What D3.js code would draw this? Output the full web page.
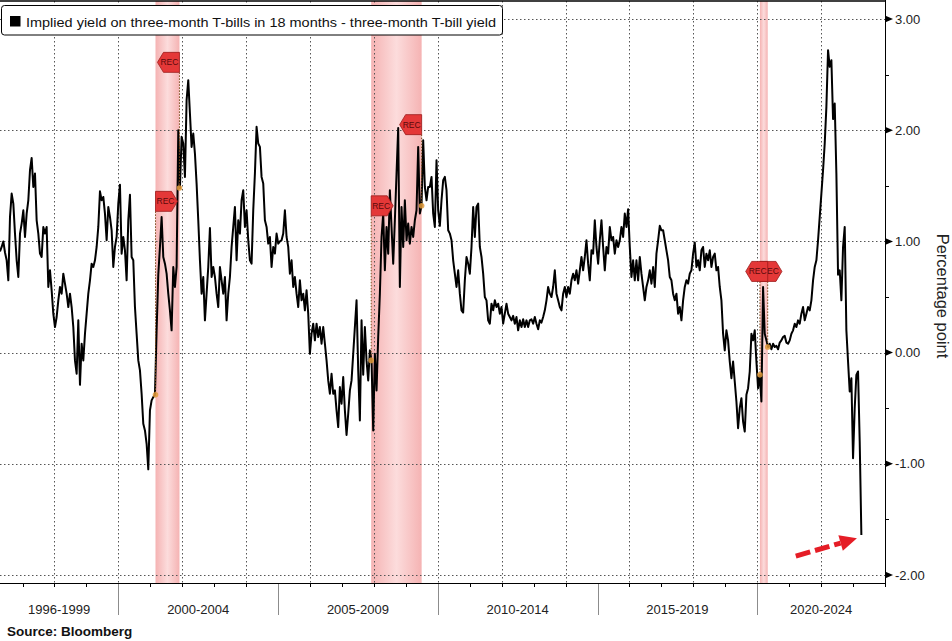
<!DOCTYPE html>
<html>
<head>
<meta charset="utf-8">
<script src="https://cdn.jsdelivr.net/npm/d3@7"></script>
<style>
  body { margin: 0; background: #fff; }
  svg { display: block; font-family: "Liberation Sans", Arial, sans-serif; }
</style>
</head>
<body>
<div id="chart"></div>
<script>
// ___________________________ data ___________________________
const seriesName = "Implied yield on three-month T-bills in 18 months - three-month T-bill yield";
const firstDate = new Date(1996, 3, 18);
const lastAxisDate = new Date(2024, 0, 1);
const stepDays = 19.05; // spacing of the sampled points

const spread = [
    0.91, 0.95, 1.00, 0.90, 0.83, 0.65, 1.22, 1.43, 1.34, 1.07, 0.83, 0.68, 1.07, 1.16, 1.28, 1.04, 1.25, 1.37, 1.64, 1.75,
    1.49, 1.61, 1.19, 1.07, 0.89, 0.86, 1.13, 1.07, 1.13, 0.59, 0.74, 0.56, 0.35, 0.23, 0.32, 0.47, 0.59, 0.53, 0.71, 0.62,
    0.53, 0.41, 0.53, 0.41, 0.23, -0.07, -0.19, 0.29, -0.29, 0.08, -0.07, 0.17, 0.35, 0.53, 0.65, 0.80, 0.77, 0.83, 0.95, 1.13,
    1.45, 1.37, 1.40, 1.25, 1.01, 1.31, 1.22, 1.10, 0.77, 0.95, 1.04, 1.34, 1.51, 0.89, 1.04, 0.92, 0.65, 1.19, 1.42, 0.86,
    0.83, 0.41, 0.17, -0.07, -0.16, -0.37, -0.64, -0.70, -0.82, -1.05, -0.52, -0.43, -0.40, -0.38, 0.20, 0.70, 0.95, 1.22, 0.86, 0.80,
    0.71, 0.53, 0.38, 0.20, 0.77, 0.59, 0.77, 2.00, 1.48, 1.94, 1.88, 1.58, 2.27, 2.45, 2.15, 1.85, 1.97, 1.79, 1.52, 1.19,
    0.83, 0.53, 0.68, 0.29, 0.53, 0.77, 1.12, 0.68, 0.77, 0.68, 0.53, 0.41, 0.77, 0.65, 0.53, 0.68, 0.29, 0.53, 0.68, 0.95,
    1.13, 1.31, 0.83, 1.19, 1.07, 1.37, 1.46, 1.13, 1.28, 1.01, 0.83, 0.80, 1.28, 1.61, 2.03, 1.88, 1.85, 1.58, 1.52, 1.19,
    1.13, 0.98, 1.04, 0.77, 0.95, 0.89, 1.07, 0.98, 1.00, 1.01, 1.07, 1.28, 1.04, 0.95, 0.71, 0.83, 0.59, 0.68, 0.53, 0.41,
    0.65, 0.47, 0.53, 0.38, 0.56, 0.35, -0.01, 0.17, 0.26, 0.11, 0.26, 0.14, 0.23, 0.08, 0.23, 0.08, -0.07, -0.25, -0.37, -0.19,
    -0.37, -0.34, -0.52, -0.67, -0.31, -0.46, -0.22, -0.52, -0.74, -0.55, -0.34, -0.25, -0.01, 0.23, 0.47, -0.16, -0.61, 0.29, -0.20, 0.23,
    -0.07, -0.25, 0.02, -0.07, -0.70, -0.01, -0.34, 0.14, 0.53, 1.04, 1.25, 0.74, 1.13, 0.89, 1.46, 1.13, 0.80, 1.19, 1.61, 2.02,
    0.59, 1.31, 0.95, 1.37, 1.01, 1.16, 0.98, 1.13, 1.04, 1.19, 1.28, 1.85, 1.25, 1.32, 1.91, 1.49, 1.37, 1.49, 1.49, 1.58,
    1.25, 1.13, 1.73, 1.28, 1.14,
    1.37, 1.55, 1.58, 1.46, 1.10, 1.07, 1.01, 0.83, 0.71, 0.59, 0.74, 0.53, 0.38, 0.36, 0.65, 0.86, 0.80, 0.71, 0.95, 1.31,
    1.04, 1.31, 1.34, 0.95, 0.86, 0.71, 0.50, 0.47, 0.29, 0.26, 0.44, 0.38, 0.47, 0.41, 0.44, 0.35, 0.41, 0.26, 0.35, 0.44,
    0.35, 0.32, 0.29, 0.33, 0.26, 0.32, 0.20, 0.29, 0.23, 0.30, 0.23, 0.29, 0.23, 0.29, 0.30, 0.26, 0.32, 0.26, 0.21, 0.29,
    0.27, 0.32, 0.38, 0.47, 0.59, 0.53, 0.50, 0.59, 0.74, 0.53, 0.47, 0.41, 0.38, 0.53, 0.59, 0.50, 0.59, 0.53, 0.65, 0.71,
    0.65, 0.74, 0.62, 0.74, 0.86, 0.74, 0.86, 1.01, 0.80, 0.65, 0.92, 0.89, 1.19, 0.95, 0.80, 1.01, 1.19, 0.95, 0.74, 0.95,
    0.89, 1.13, 1.01, 1.04, 0.89, 1.01, 0.95, 1.01, 1.13, 1.04, 1.25, 1.13, 1.29, 0.95, 0.68, 0.83, 0.65, 0.83, 0.65, 0.86,
    0.71, 0.59, 0.47, 0.59, 0.65, 0.74, 0.62, 0.77, 0.59, 0.89, 1.01, 1.14, 1.10, 1.10, 1.01, 0.92, 0.83, 0.68, 0.65, 0.53,
    0.47, 0.53, 0.35, 0.41, 0.29, 0.47, 0.59, 0.65, 0.62, 0.71, 0.74, 0.89, 0.99, 0.77, 0.83, 0.74, 0.92, 0.95, 0.77, 0.89,
    0.83, 0.92, 0.77, 0.86, 0.89, 0.74, 0.77, 0.59, 0.47, 0.17, 0.02, 0.20, 0.11, -0.08, -0.23, -0.08, -0.26, -0.44, -0.68, -0.50,
    -0.41, -0.62, -0.71, -0.38, -0.32, -0.17, 0.17, 0.11, 0.20, -0.08, -0.32, -0.20, -0.44, 0.59, 0.17, 0.11, 0.05, 0.08, 0.03, 0.08,
    0.05, 0.06, 0.03, 0.09, 0.11, 0.14, 0.15, 0.09, 0.08, 0.11, 0.17, 0.20, 0.26, 0.23, 0.29, 0.26, 0.35, 0.41, 0.29, 0.35,
    0.41, 0.38, 0.47, 0.65, 0.77, 0.83, 1.01, 1.22, 1.43, 1.64, 1.88, 2.21, 2.72, 2.57, 2.63, 2.10, 2.24, 1.61, 0.70, 0.74,
    0.47, 0.95, 1.13, 0.20, -0.08, -0.35, -0.23, -0.95, -0.50, -0.20, -0.17, -0.80, -1.64
];

const periodLabels = ["1996-1999", "2000-2004", "2005-2009", "2010-2014", "2015-2019", "2020-2024"];
const periodStarts = [1996, 2000, 2005, 2010, 2015, 2020];
const periodEnds = [2000, 2005, 2010, 2015, 2020, 2025];
const yTicks = [-2, -1, 0, 1, 2, 3];
const yMinorTicks = [-1.5, -0.5, 0.5, 1.5, 2.5];

const recStarts = ["2001-03-01", "2007-12-01", "2020-02-01"];
const recEnds = ["2001-11-30", "2009-06-30", "2020-04-30"];
const recStartFlag = [1.36, 1.32, 0.73];
const recEndFlag = [2.61, 2.05, 0.73];

const arrowDates = ["2021-03-17", "2023-02-14"];
const arrowValues = [-1.83, -1.67];

// ___________________________ chart ___________________________
const width = 952, height = 641;
const plot = { left: 0, right: 885, top: 1, bottom: 583 };
const parse = d3.timeParse("%Y-%m-%d");

const data = spread.map(function (v, i) {
    return { date: new Date(firstDate.getTime() + i * stepDays * 864e5), value: v };
});

const x = d3.scaleTime().domain([firstDate, lastAxisDate]).range([plot.left, plot.right]);
const y = d3.scaleLinear().domain([-2, 3]).range([575, 19]);

const svg = d3.select("#chart").append("svg")
    .attr("width", width)
    .attr("height", height);

svg.append("rect").attr("width", width).attr("height", height).attr("fill", "#fff");

const defs = svg.append("defs");
const grad = defs.append("linearGradient")
    .attr("id", "recGrad").attr("x1", 0).attr("x2", 1).attr("y1", 0).attr("y2", 0);
grad.append("stop").attr("offset", "0%").attr("stop-color", "#f5b3b3");
grad.append("stop").attr("offset", "50%").attr("stop-color", "#fcdcdc");
grad.append("stop").attr("offset", "100%").attr("stop-color", "#f5b3b3");

const recessions = recStarts.map(function (s, i) {
    return { start: parse(s), end: parse(recEnds[i]), startFlag: recStartFlag[i], endFlag: recEndFlag[i] };
});

// recession bands
svg.selectAll(".band")
    .data(recessions)
    .enter()
    .append("rect")
    .attr("class", "band")
    .attr("x", d => x(d.start))
    .attr("width", d => x(d.end) - x(d.start))
    .attr("y", plot.top)
    .attr("height", plot.bottom - plot.top)
    .attr("fill", "url(#recGrad)");

// dotted grid
svg.selectAll(".hgrid")
    .data(yTicks)
    .enter()
    .append("line")
    .attr("class", "hgrid")
    .attr("x1", plot.left)
    .attr("x2", plot.right)
    .attr("y1", d => Math.round(y(d)) + 0.5)
    .attr("y2", d => Math.round(y(d)) + 0.5)
    .attr("stroke", "#555")
    .attr("stroke-dasharray", "1.5,2.5");

const gridYears = d3.timeYear.every(2).range(new Date(1998, 0, 1), new Date(2023, 0, 1));
svg.selectAll(".vgrid")
    .data(gridYears)
    .enter()
    .append("line")
    .attr("class", "vgrid")
    .attr("x1", d => Math.round(x(d)) + 0.5)
    .attr("x2", d => Math.round(x(d)) + 0.5)
    .attr("y1", plot.top)
    .attr("y2", plot.bottom)
    .attr("stroke", "#555")
    .attr("stroke-dasharray", "1.5,2.5");

// the series
const line = d3.line()
    .x(d => x(d.date))
    .y(d => y(d.value));

svg.append("path")
    .datum(data)
    .attr("fill", "none")
    .attr("stroke", "#000")
    .attr("stroke-width", 2)
    .attr("stroke-linejoin", "round")
    .attr("d", line);

// points on the line at recession start / end
const nearest = d3.bisector(d => d.date).center;
const marks = [];
recessions.forEach(function (r) {
    marks.push({ date: r.start, flag: r.startFlag, side: "start", value: data[nearest(data, r.start)].value });
    marks.push({ date: r.end, flag: r.endFlag, side: "end", value: data[nearest(data, r.end)].value });
});

svg.selectAll(".leader")
    .data(marks)
    .enter()
    .append("line")
    .attr("class", "leader")
    .attr("x1", d => x(d.date))
    .attr("x2", d => x(d.date))
    .attr("y1", d => y(d.flag) + (y(d.value) > y(d.flag) ? 10 : -10))
    .attr("y2", d => y(d.value))
    .attr("stroke", "#7a4a1a")
    .attr("stroke-width", 1)
    .attr("stroke-dasharray", "1.5,1.5");

svg.selectAll(".recdot")
    .data(marks)
    .enter()
    .append("circle")
    .attr("class", "recdot")
    .attr("cx", d => x(d.date))
    .attr("cy", d => y(d.value))
    .attr("r", 2.8)
    .attr("fill", "#e09a3a")
    .attr("opacity", 0.85);

// REC flags: start flags point right, end flags point left (end flags on top)
function flagPath(d) {
    const px = x(d.date), py = y(d.flag), s = d.side === "start" ? 1 : -1;
    return "M" + px + "," + (py - 10) +
        "L" + (px + s * 16) + "," + (py - 10) +
        "L" + (px + s * 22) + "," + py +
        "L" + (px + s * 16) + "," + (py + 10) +
        "L" + px + "," + (py + 10) + "Z";
}
const flagOrder = marks.filter(d => d.side === "start").concat(marks.filter(d => d.side === "end"));
const flags = svg.selectAll(".flag")
    .data(flagOrder)
    .enter()
    .append("g")
    .attr("class", "flag");
flags.append("path")
    .attr("d", flagPath)
    .attr("fill", "#e43838")
    .attr("stroke", "#9a1a1a")
    .attr("stroke-width", 0.8);
flags.append("text")
    .attr("x", d => x(d.date) + (d.side === "start" ? 10 : -10))
    .attr("y", d => y(d.flag) + 3)
    .attr("text-anchor", "middle")
    .style("font-size", "8.5px")
    .style("fill", "#5a0a0a")
    .text("REC");

// red dashed arrow
const a0 = [x(parse(arrowDates[0])), y(arrowValues[0])];
const a1 = [x(parse(arrowDates[1])), y(arrowValues[1])];
const ang = Math.atan2(a1[1] - a0[1], a1[0] - a0[0]);
const headLen = 17, headHalf = 8;
const base = [a1[0] - headLen * Math.cos(ang), a1[1] - headLen * Math.sin(ang)];
svg.append("line")
    .attr("x1", a0[0]).attr("y1", a0[1])
    .attr("x2", base[0]).attr("y2", base[1])
    .attr("stroke", "#e51d26")
    .attr("stroke-width", 5)
    .attr("stroke-dasharray", "15,5");
svg.append("path")
    .attr("d", "M" + a1[0] + "," + a1[1] +
        "L" + (base[0] + headHalf * Math.sin(ang)) + "," + (base[1] - headHalf * Math.cos(ang)) +
        "L" + (base[0] - headHalf * Math.sin(ang)) + "," + (base[1] + headHalf * Math.cos(ang)) + "Z")
    .attr("fill", "#e51d26");

// frame
svg.append("line")
    .attr("x1", plot.left).attr("x2", plot.right)
    .attr("y1", plot.top).attr("y2", plot.top)
    .attr("stroke", "#000").attr("stroke-width", 1.5);

// right axis
const yAxis = svg.append("g").attr("class", "y-axis");
yAxis.append("line")
    .attr("x1", plot.right + 0.5).attr("x2", plot.right + 0.5)
    .attr("y1", 0).attr("y2", plot.bottom + 4)
    .attr("stroke", "#000");
yAxis.selectAll(".tri")
    .data(yTicks)
    .enter()
    .append("path")
    .attr("class", "tri")
    .attr("d", d => "M" + plot.right + "," + (y(d) - 3.5) + "L" + (plot.right + 8) + "," + y(d) + "L" + plot.right + "," + (y(d) + 3.5) + "Z")
    .attr("fill", "#000");
yAxis.selectAll(".minor")
    .data(yMinorTicks)
    .enter()
    .append("line")
    .attr("class", "minor")
    .attr("x1", plot.right).attr("x2", plot.right + 4)
    .attr("y1", d => Math.round(y(d)) + 0.5)
    .attr("y2", d => Math.round(y(d)) + 0.5)
    .attr("stroke", "#000");
const fmt = d3.format(".2f");
yAxis.selectAll(".ylab")
    .data(yTicks)
    .enter()
    .append("text")
    .attr("class", "ylab")
    .attr("x", plot.right + 10)
    .attr("y", d => y(d))
    .attr("dy", "0.36em")
    .style("font-size", "13px")
    .style("fill", "#222")
    .text(d => fmt(d).replace("\u2212", "-"));

svg.append("text")
    .attr("transform", "translate(937,296) rotate(90)")
    .attr("text-anchor", "middle")
    .style("font-size", "16.5px")
    .style("fill", "#222")
    .text("Percentage point");

// bottom axis
const xAxis = svg.append("g").attr("class", "x-axis");
xAxis.append("line")
    .attr("x1", plot.left).attr("x2", plot.right + 1)
    .attr("y1", plot.bottom + 0.5).attr("y2", plot.bottom + 0.5)
    .attr("stroke", "#000");
xAxis.selectAll(".ytick")
    .data(d3.timeYear.range(new Date(1997, 0, 1), new Date(2024, 0, 2)))
    .enter()
    .append("line")
    .attr("class", "ytick")
    .attr("x1", d => Math.round(x(d)) + 0.5)
    .attr("x2", d => Math.round(x(d)) + 0.5)
    .attr("y1", plot.bottom)
    .attr("y2", plot.bottom + 4)
    .attr("stroke", "#000");
xAxis.selectAll(".sep")
    .data(periodStarts.slice(1))
    .enter()
    .append("line")
    .attr("class", "sep")
    .attr("x1", d => Math.round(x(new Date(d, 0, 1))) + 0.5)
    .attr("x2", d => Math.round(x(new Date(d, 0, 1))) + 0.5)
    .attr("y1", plot.bottom + 1)
    .attr("y2", plot.bottom + 32)
    .attr("stroke", "#8c8c8c");
xAxis.selectAll(".plab")
    .data(periodLabels)
    .enter()
    .append("text")
    .attr("class", "plab")
    .attr("x", function (d, i) {
        const a = x(d3.max([new Date(periodStarts[i], 0, 1), firstDate]));
        const b = x(d3.min([new Date(periodEnds[i], 0, 1), lastAxisDate]));
        return (a + b) / 2;
    })
    .attr("y", 614)
    .attr("text-anchor", "middle")
    .style("font-size", "13px")
    .style("fill", "#222")
    .text(d => d);

// legend
const legend = svg.append("g").attr("class", "legend");
legend.append("rect")
    .attr("x", 1.5).attr("y", 5.5)
    .attr("width", 501).attr("height", 29.5)
    .attr("rx", 3)
    .attr("fill", "#fff")
    .attr("stroke", "#000");
legend.append("rect")
    .attr("x", 10).attr("y", 16)
    .attr("width", 10.5).attr("height", 10.5)
    .attr("fill", "#000");
legend.append("text")
    .attr("x", 26).attr("y", 26.5)
    .attr("textLength", 470)
    .attr("lengthAdjust", "spacingAndGlyphs")
    .style("font-size", "13.5px")
    .style("fill", "#111")
    .text(seriesName);

svg.append("text")
    .attr("x", 7).attr("y", 636)
    .style("font-size", "13.5px")
    .style("font-weight", "bold")
    .style("fill", "#111")
    .text("Source:  Bloomberg");
</script>
</body>
</html>
